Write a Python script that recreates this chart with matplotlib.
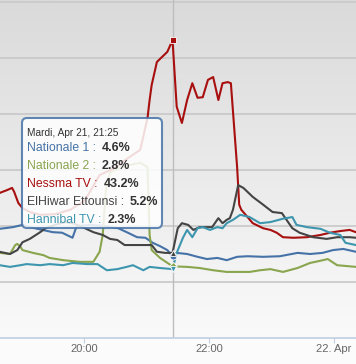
import numpy as np
import matplotlib.pyplot as plt
from matplotlib.colors import LinearSegmentedColormap
from matplotlib.patches import FancyBboxPatch

plt.rcParams['font.family'] = ['Liberation Sans', 'DejaVu Sans']

# time in minutes after 18:00 (Apr 21), audience share in %
nat1_t = [39, 52, 61, 73, 90, 99, 109, 113, 126, 140, 153, 161, 171, 179, 186, 193, 200, 205, 209, 219,
          229, 238, 248, 257, 267, 277, 292, 308, 325, 337, 349, 359, 369, 381]
nat1_v = [9.5, 9.8, 10.2, 9.6, 8.9, 8.8, 7.9, 10.0, 10.2, 10.0, 9.6, 8.9, 8.0, 7.9, 7.0, 6.4, 5.7, 4.6, 5.2, 5.0,
          4.5, 4.1, 4.3, 3.9, 4.5, 4.6, 4.5, 4.6, 5.2, 5.0, 5.2, 5.7, 5.9, 5.4]

nat2_t = [39, 49, 54, 56, 59, 61, 71, 81, 87, 100, 116, 129, 135, 138, 141, 145, 155, 164, 174, 181,
          183, 185, 193, 205, 219, 231, 244, 257, 279, 289, 299, 311, 325, 337, 347, 354, 363, 381]
nat2_v = [5.2, 5.0, 6.6, 6.8, 6.3, 5.7, 5.2, 4.8, 4.3, 3.9, 3.6, 3.6, 5.4, 8.4, 16.4, 19.6, 20.4, 20.9, 21.3, 20.5,
          8.4, 5.7, 4.3, 2.8, 2.7, 2.5, 2.1, 1.8, 1.8, 2.1, 2.3, 1.8, 2.5, 3.4, 3.8, 4.1, 3.0, 2.7]

nessma_t = [39, 46, 51, 53, 57, 61, 68, 78, 92, 107, 121, 135, 150, 162, 174, 181, 183, 185, 190, 195,
            200, 205, 209, 214, 219, 224, 229, 234, 239, 244, 249, 253, 258, 261, 267, 269, 271, 277, 282, 292,
            299, 305, 311, 321, 334, 347, 356, 366, 375, 381]
nessma_v = [15.9, 16.4, 16.8, 16.1, 14.1, 13.2, 12.5, 12.0, 12.1, 12.9, 14.6, 19.1, 20.4, 22.1, 23.6, 29.3, 32.5, 35.2, 39.3, 40.2,
            41.1, 43.2, 31.3, 28.4, 32.5, 35.5, 32.9, 33.0, 36.1, 36.6, 32.5, 35.5, 35.7, 35.5, 20.5, 13.8, 12.9, 11.6, 10.5, 9.6,
            9.3, 8.8, 8.0, 7.9, 8.0, 8.4, 8.8, 9.1, 9.3, 8.9]

hiwar_t = [39, 49, 56, 61, 68, 78, 83, 92, 102, 111, 121, 129, 138, 145, 152, 159, 167, 177, 185, 190,
           198, 205, 210, 214, 220, 225, 231, 238, 243, 249, 253, 257, 260, 263, 268, 273, 282, 292, 301, 310,
           320, 327, 340, 353, 363, 375, 381]
hiwar_v = [5.4, 5.0, 5.7, 7.1, 7.7, 8.9, 9.6, 10.2, 10.7, 10.4, 9.6, 8.9, 8.4, 7.7, 7.5, 6.6, 6.6, 6.6, 6.6, 5.4,
           5.2, 5.2, 9.6, 10.5, 10.2, 9.3, 9.8, 9.8, 9.8, 11.4, 10.5, 11.1, 11.4, 12.9, 17.3, 16.8, 15.2, 13.8, 12.5, 12.3,
           9.6, 8.8, 8.0, 7.7, 8.0, 8.0, 7.9]

hann_t = [39, 49, 59, 65, 78, 87, 100, 109, 123, 133, 142, 152, 161, 167, 177, 183, 193, 205, 209, 215,
          219, 224, 229, 234, 241, 248, 253, 257, 263, 270, 279, 289, 299, 311, 320, 324, 334, 347, 356, 366,
          371, 381]
hann_v = [3.0, 2.7, 3.0, 3.2, 3.0, 3.2, 3.0, 3.4, 3.2, 3.2, 2.1, 2.3, 2.7, 3.0, 2.1, 2.7, 2.5, 2.3, 5.2, 7.9,
          9.3, 8.0, 9.6, 9.8, 9.3, 9.8, 9.6, 10.5, 11.1, 12.0, 11.6, 10.5, 10.7, 11.3, 11.6, 10.2, 9.8, 9.5, 8.8, 8.4,
          7.0, 6.6]

tick_pos = [120, 240, 360]
tick_labels = ['20:00', '22:00', '22. Apr']
hover_t = 205
hover_title = 'Mardi, Apr 21, 21:25'

series = [
    ('Nationale 1', nat1_t, nat1_v, '#4572A7', 'o', 5),
    ('Nationale 2', nat2_t, nat2_v, '#89A54E', 'D', 4),
    ('Nessma TV', nessma_t, nessma_v, '#A80F0F', 's', 5),
    ('ElHiwar Ettounsi', hiwar_t, hiwar_v, '#444444', '^', 5),
    ('Hannibal TV', hann_t, hann_v, '#3D96AE', 'v', 5),
]

W, H = 356, 364
fig = plt.figure(figsize=(W / 100, H / 100), dpi=100, facecolor='#fbfbfb')
ax = fig.add_axes([0, 26 / H, 1, 338 / H])

x0, x1 = 39.4, 381.1
y0, y1 = -10, 50.36

# grey to white background
bg = LinearSegmentedColormap.from_list('bg', ['#dadada', '#fafafa'])
ax.imshow(np.linspace(0, 1, 256).reshape(-1, 1), cmap=bg, extent=[x0, x1, y0, y1],
          aspect='auto', origin='upper', zorder=0)

for v in range(0, 51, 10):
    ax.axhline(v, color='#c8c8c8', lw=1.2, zorder=1)
ax.axvline(hover_t, color='#bdbdbd', lw=1, zorder=1)

for name, t, v, color, marker, ms in series:
    ax.plot(t, v, color=color, lw=1.5, zorder=3, solid_joinstyle='round')
    i = t.index(hover_t)
    ax.plot(t[i], v[i], marker=marker, color=color, ms=ms, mec='white', mew=0.6, zorder=4)

ax.set_xlim(x0, x1)
ax.set_ylim(y0, y1)
ax.set_yticks([])
ax.set_xticks(tick_pos)
ax.set_xticklabels(tick_labels)
ax.tick_params(axis='x', direction='out', length=3.5, color='#C0D0E0', labelcolor='#666666',
               labelsize=8, pad=1)
for s in ['top', 'left', 'right']:
    ax.spines[s].set_visible(False)
ax.spines['bottom'].set_color('#C0D0E0')
ax.spines['bottom'].set_linewidth(1.2)


def fx(px):
    return px / W


def fy(py):
    return 1 - py / H


# tooltip box
box = FancyBboxPatch((fx(22), fy(228)), fx(140), 110 / H,
                     boxstyle='round,pad=0,rounding_size=0.014',
                     transform=fig.transFigure, facecolor='white', alpha=0.85,
                     edgecolor='#4572A7', lw=1.5, zorder=5)
fig.add_artist(box)
fig.text(fx(27), fy(133), hover_title, fontsize=7.3, color='#333333', va='center', zorder=6)

renderer = fig.canvas.get_renderer()
row_y = [148, 166, 184, 202, 220]
for (name, t, v, color, marker, ms), ry in zip(series, row_y):
    lab = fig.text(fx(27), fy(ry), name + ' :', fontsize=8.8, color=color, va='center', zorder=6)
    end_px = lab.get_window_extent(renderer).x1
    fig.text(fx(end_px + 6), fy(ry), '%.1f%%' % v[t.index(hover_t)], fontsize=9, color='#333333',
             fontweight='bold', va='center', zorder=6)

fig.savefig('out.png', dpi=100, facecolor=fig.get_facecolor())
